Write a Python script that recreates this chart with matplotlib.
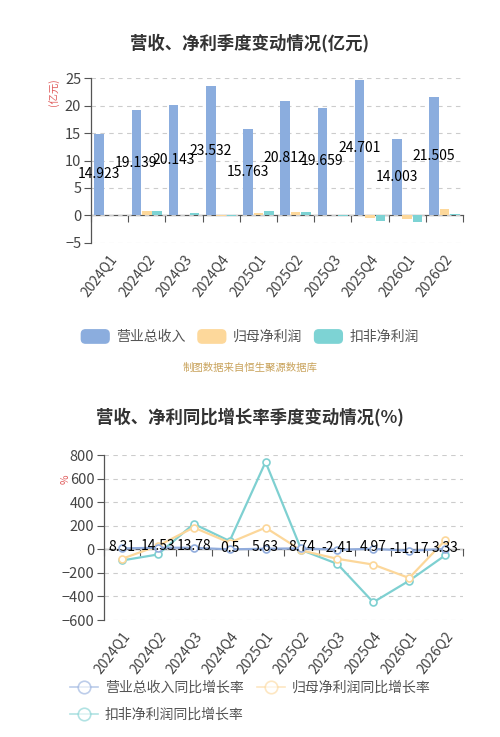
import numpy as np
import matplotlib
matplotlib.use("Agg")
import matplotlib.pyplot as plt
from matplotlib.patches import Patch, FancyBboxPatch
from matplotlib.lines import Line2D
from matplotlib.legend_handler import HandlerPatch

plt.rcParams['font.family'] = ['Noto Sans CJK SC', 'DejaVu Sans']

quarters = ['2024Q1', '2024Q2', '2024Q3', '2024Q4', '2025Q1',
            '2025Q2', '2025Q3', '2025Q4', '2026Q1', '2026Q2']

# 亿元
revenue = [14.923, 19.139, 20.143, 23.532, 15.763, 20.812, 19.659, 24.701, 14.003, 21.505]
net_profit = [0.05, 0.85, 0.1, -0.1, 0.5, 0.6, 0.05, -0.5, -0.7, 1.1]
deducted_profit = [0.02, 0.7, 0.4, -0.05, 0.7, 0.6, -0.1, -1.1, -1.2, 0.3]

# 同比增长率 %
revenue_yoy = [8.31, 14.53, 13.78, 0.5, 5.63, 8.74, -2.41, 4.97, -11.17, 3.33]
revenue_yoy_labels = ['8.31', '14.53', '13.78', '0.5', '5.63', '8.74', '-2.41', '4.97', '-11.17', '3.33']
net_profit_yoy = [-80, 30, 186, 57, 185, -9, -80, -129, -243, 77]
deducted_yoy = [-94, -43, 217, 71, 743, -5, -123, -449, -266, -51]

c_rev = '#8badde'
c_np = '#fdd89b'
c_dp = '#7dd3d4'
c_rev_l = '#91acdc'
c_np_l = '#fcd79a'
c_dp_l = '#7ed0d1'
txt = '#444444'
axis_c = '#555555'

W, H = 500, 737
fig = plt.figure(figsize=(W / 100, H / 100), dpi=100)


def setup_axes(ax, ymin, ymax, step):
    x = np.arange(len(quarters))
    ax.set_xlim(-0.5, len(quarters) - 0.5)
    ax.set_ylim(ymin, ymax)
    ax.set_yticks(np.arange(ymin, ymax + step, step))
    ax.set_xticks(x)
    ax.set_xticklabels(quarters, rotation=52, ha='right', va='top',
                       rotation_mode='anchor', fontsize=10, color=txt)
    ax.tick_params(axis='x', length=0, pad=7)
    ax.tick_params(axis='y', length=5, width=0.8, color=axis_c, labelsize=10.5,
                   labelcolor=txt, pad=2)
    for s in ['top', 'right', 'bottom']:
        ax.spines[s].set_visible(False)
    ax.spines['left'].set_color(axis_c)
    ax.spines['left'].set_linewidth(0.9)
    ax.yaxis.grid(True, linestyle=(0, (4, 4)), color='#cccccc', lw=0.8)
    ax.set_axisbelow(True)
    # category axis at zero
    sec = ax.secondary_xaxis((0 - ymin) / (ymax - ymin))
    sec.set_xticks(np.arange(-0.5, len(quarters), 1.0))
    sec.set_xticklabels([])
    sec.tick_params(axis='x', length=5, width=0.8, color=axis_c, direction='out')
    sec.spines['bottom'].set_color(axis_c)
    sec.spines['bottom'].set_linewidth(0.9)
    return x


# ---- top: bar chart ----
ax1 = fig.add_axes([91 / W, 1 - 242.7 / H, 372 / W, (242.7 - 78.3) / H])
x = setup_axes(ax1, -5, 25, 5)
bw = 0.255
off = 0.28
ax1.bar(x - off, revenue, bw, color=c_rev, zorder=2)
ax1.bar(x, net_profit, bw, color=c_np, zorder=2)
ax1.bar(x + off, deducted_profit, bw, color=c_dp, zorder=2)
for i, v in enumerate(revenue):
    ax1.text(x[i] - off, v / 2, f'{v:.3f}', ha='center', va='center',
             fontsize=10, color='black', zorder=3)


def rounded(legend, orig_handle, xdescent, ydescent, width, height, fontsize):
    return FancyBboxPatch((-xdescent, -ydescent), width, height,
                          boxstyle='round,pad=0,rounding_size=3')


leg1 = fig.legend(handles=[Patch(color=c_rev, label='营业总收入'),
                           Patch(color=c_np, label='归母净利润'),
                           Patch(color=c_dp, label='扣非净利润')],
                  loc='center', bbox_to_anchor=(0.5, 1 - 337 / H), ncol=3,
                  frameon=False, fontsize=10, handlelength=2.0, handleheight=1.1,
                  handletextpad=0.5, columnspacing=0.9, labelcolor='#555555',
                  handler_map={Patch: HandlerPatch(patch_func=rounded)})

fig.text(0.5, 1 - 43 / H, '营收、净利季度变动情况(亿元)', ha='center', va='center',
         fontsize=12.5, fontweight='bold', color='#333333')
fig.text(54 / W, 1 - 92 / H, '(亿元)', rotation=90, ha='center', va='center',
         fontsize=7.5, color='#e05c5c')
fig.text(0.5, 1 - 368 / H, '制图数据来自恒生聚源数据库', ha='center', va='center',
         fontsize=7.5, color='#c9a35c')

# ---- bottom: line chart ----
ax2 = fig.add_axes([104 / W, 1 - 620 / H, 359 / W, (620 - 455.3) / H])
x = setup_axes(ax2, -600, 800, 200)
ax2.plot(x, deducted_yoy, color=c_dp_l, lw=1.6, marker='o', ms=5,
         mfc='white', mew=1.2, zorder=3)
ax2.plot(x, net_profit_yoy, color=c_np_l, lw=1.6, marker='o', ms=5,
         mfc='white', mew=1.2, zorder=3)
ax2.plot(x, revenue_yoy, color=c_rev_l, lw=1.6, marker='o', ms=5,
         mfc='white', mew=1.2, zorder=4)
for i, v in enumerate(revenue_yoy):
    ax2.annotate(revenue_yoy_labels[i], (x[i], v), xytext=(0, 1),
                 textcoords='offset points', ha='center', va='center',
                 fontsize=10, color='black', zorder=5)

fig.text(0.5, 1 - 417 / H, '营收、净利同比增长率季度变动情况(%)', ha='center',
         va='center', fontsize=12.5, fontweight='bold', color='#333333')
fig.text(66 / W, 1 - 479 / H, '%', rotation=90, ha='center', va='center',
         fontsize=7.5, color='#e05c5c')


def lh(c, label):
    return Line2D([], [], color=c, lw=1.2, alpha=0.6, marker='o', ms=9,
                  mfc='white', mew=1.2, label=label)


leg2 = fig.legend(handles=[lh(c_rev_l, '营业总收入同比增长率'),
                           lh(c_dp_l, '扣非净利润同比增长率'),
                           lh(c_np_l, '归母净利润同比增长率')],
                  loc='upper left', bbox_to_anchor=(70 / W, 1 - 681 / H), ncol=2,
                  frameon=False, fontsize=10, handlelength=2.0, handletextpad=0.5,
                  columnspacing=1.0, labelspacing=0.9, borderpad=0,
                  borderaxespad=0, labelcolor='#555555')

fig.savefig('out.png', dpi=100)
